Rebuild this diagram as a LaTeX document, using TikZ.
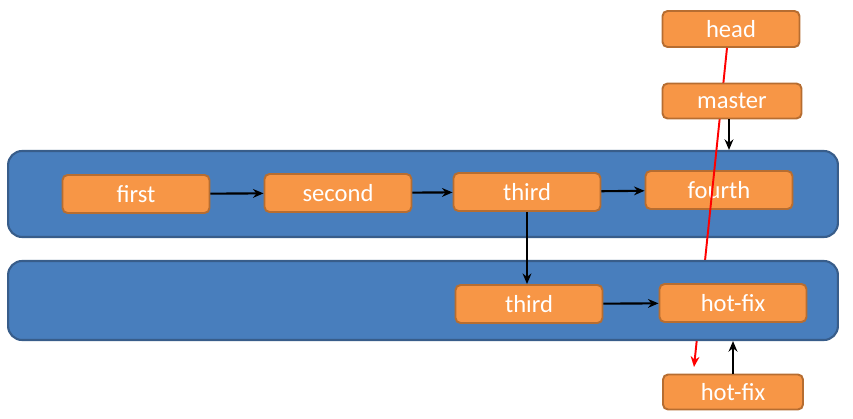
\documentclass[tikz,border=0pt]{standalone}
\usepackage{fontspec}
\setmainfont{Carlito}
\usetikzlibrary{arrows.meta}

\definecolor{bandblue}{RGB}{72,126,189}
\definecolor{bandline}{RGB}{56,93,138}
\definecolor{boxorange}{RGB}{247,150,70}
\definecolor{boxline}{RGB}{182,109,49}

\tikzset{
    band/.style={draw=bandline, line width=1.2pt, fill=bandblue, rounded corners=0.28cm, minimum width=16.6cm},
    commit/.style={draw=boxline, line width=1.1pt, fill=boxorange, rounded corners=0.1cm,
        minimum width=2.94cm, minimum height=0.76cm, text=white, font=\fontsize{14}{16}\selectfont, inner sep=0pt},
    link/.style={line width=1.2pt, -{Stealth[length=6pt,width=5pt]}},
}

\begin{document}
\begin{tikzpicture}[x=0.02cm, y=-0.02cm]
    \useasboundingbox (0,0) rectangle (853,419);
    % master branch
    \node[band, minimum height=1.72cm] (mainband) at (423,194) {};
    \node[commit] (first) at (136,194) {first};
    \node[commit] (second) at (338,193) {second};
    \node[commit] (third) at (527,192) {third};
    \node[commit] (fourth) at (719,190) {fourth};

    % pointer moved by head (runs behind the hot-fix branch)
    \node[commit, minimum width=2.74cm, minimum height=0.72cm] (head) at (731,29) {head};
    \coordinate (headend) at (694,367);
    \draw[red, line width=1.1pt, -{Stealth[length=6pt,width=5pt]}] ([xshift=-0.08cm]head.south) -- (headend);

    % hot-fix branch
    \node[band, minimum height=1.58cm] (fixband) at (423,300.5) {};
    \node[commit] (thirdfix) at (529,304) {third};
    \node[commit] (hotfix) at (733,303) {hot-fix};

    % branch labels
    \node[commit, minimum width=2.78cm, minimum height=0.7cm] (master) at (732,101) {master};
    \node[commit, minimum width=2.8cm, minimum height=0.7cm] (fixlabel) at (733,392) {hot-fix};

    % history
    \draw[link] (first) -- (second);
    \draw[link] (second) -- (third);
    \draw[link] (third) -- (fourth);
    \draw[link] (third.south) -- (third.south |- thirdfix.north);
    \draw[link] (thirdfix) -- (hotfix);

    % branch pointers
    \draw[link] ([xshift=-0.06cm]master.south) -- ([xshift=-0.06cm]master.south |- mainband.north);
    \draw[link] (fixlabel.north) -- (fixlabel.north |- fixband.south);
\end{tikzpicture}
\end{document}
